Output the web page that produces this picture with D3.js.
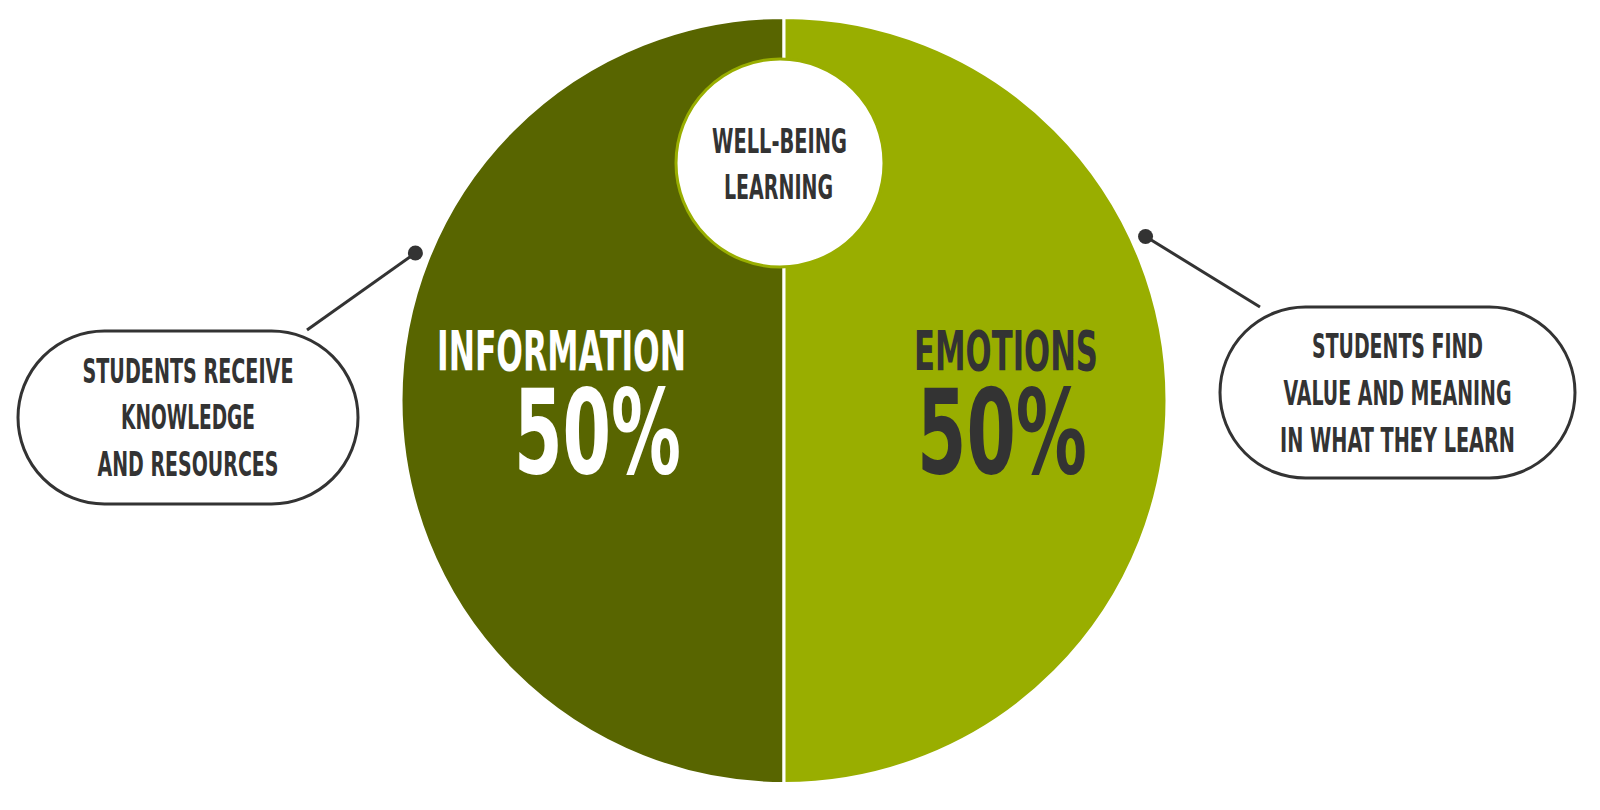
<!DOCTYPE html>
<html>
<head>
<meta charset="utf-8">
<script src="https://cdn.jsdelivr.net/npm/d3@7"></script>
<style>
  html, body { margin: 0; padding: 0; background: #ffffff; }
  svg { display: block; }
  text { font-family: "DejaVu Sans Condensed", "Liberation Sans Narrow", "Liberation Sans", sans-serif; font-weight: bold; }
</style>
</head>
<body>
<svg id="chart" width="1600" height="810"></svg>
<script>
// ---- data ----
const categories = ["INFORMATION", "EMOTIONS"];
const values = [50, 50];
const centerLabel = ["WELL-BEING", "LEARNING"];
const notes = [
  ["STUDENTS RECEIVE", "KNOWLEDGE", "AND RESOURCES"],
  ["STUDENTS FIND", "VALUE AND MEANING", "IN WHAT THEY LEARN"]
];

// ---- layout / style ----
const cx = 784, cy = 400.5, R = 383;
const colors = ["#586500", "#99ae00"];
const labelColors = ["#ffffff", "#333333"];
const ink = "#333333";
const CAP = 0.729; // cap-height ratio of the font

const svg = d3.select("#chart");

const pie = d3.pie().sort(null).value(d => d).startAngle(Math.PI).endAngle(3 * Math.PI);
const arcs = pie(values);
const arc = d3.arc().innerRadius(0).outerRadius(R);

const g = svg.append("g").attr("transform", `translate(${cx},${cy})`);
g.selectAll("path.slice").data(arcs).join("path")
  .attr("class", "slice")
  .attr("d", arc)
  .attr("fill", (d, i) => colors[i])
  .attr("stroke", "#ffffff")
  .attr("stroke-width", 3);

// condensed text: natural glyphs squeezed horizontally to a given width
function capText(sel, str, x, baseline, cap, width, anchor, fill) {
  const grp = sel.append("g");
  const t = grp.append("text")
    .attr("x", 0).attr("y", 0)
    .attr("font-size", cap / CAP)
    .attr("text-anchor", anchor)
    .attr("fill", fill)
    .text(str);
  const natural = t.node().getComputedTextLength();
  const sx = width / natural;
  grp.attr("transform", `translate(${x},${baseline}) scale(${sx},1)`);
  return t;
}

// slice labels
const labelCfg = [
  { anchor: "end", x: 686, px: 681, nameW: 249, pctW: 167 },
  { anchor: "start", x: 914, px: 917, nameW: 184, pctW: 170 }
];
arcs.forEach((a, i) => {
  const c = labelCfg[i];
  capText(svg, categories[i], c.x, 370, 40, c.nameW, c.anchor, labelColors[i]);
  capText(svg, d3.format(".0f")(values[i]) + "%", c.px, 473, 86, c.pctW, c.anchor, labelColors[i]);
});

// center circle
const ic = { x: 780, y: 163, r: 104 };
svg.append("circle")
  .attr("cx", ic.x).attr("cy", ic.y).attr("r", ic.r)
  .attr("fill", "#ffffff")
  .attr("stroke", colors[1])
  .attr("stroke-width", 3);
capText(svg, centerLabel[0], 779.5, 153, 24.5, 135, "middle", ink);
capText(svg, centerLabel[1], 778.5, 199, 24, 109, "middle", ink);

// annotation bubbles
const bubbles = [
  { x0: 18, x1: 358, y0: 331, y1: 504, angle: -68.2, end: [307, 330],
    lines: [[383, 211], [429, 134], [476, 181]] },
  { x0: 1220, x1: 1575, y0: 307, y1: 478, angle: 65.6, end: [1260, 307],
    lines: [[358, 171], [405, 228], [452, 235]] }
];
bubbles.forEach((b, i) => {
  const h = b.y1 - b.y0;
  svg.append("rect")
    .attr("x", b.x0).attr("y", b.y0)
    .attr("width", b.x1 - b.x0).attr("height", h)
    .attr("rx", h / 2).attr("ry", h / 2)
    .attr("fill", "#ffffff")
    .attr("stroke", ink).attr("stroke-width", 3);
  const p = d3.pointRadial(b.angle * Math.PI / 180, R + 14);
  const dot = [cx + p[0], cy + p[1]];
  svg.append("line")
    .attr("x1", dot[0]).attr("y1", dot[1])
    .attr("x2", b.end[0]).attr("y2", b.end[1])
    .attr("stroke", ink).attr("stroke-width", 3);
  svg.append("circle")
    .attr("cx", dot[0]).attr("cy", dot[1]).attr("r", 7.5)
    .attr("fill", ink);
  const mid = (b.x0 + b.x1) / 2;
  notes[i].forEach((t, j) => {
    capText(svg, t, mid, b.lines[j][0], 24.5, b.lines[j][1], "middle", ink);
  });
});
</script>
</body>
</html>
